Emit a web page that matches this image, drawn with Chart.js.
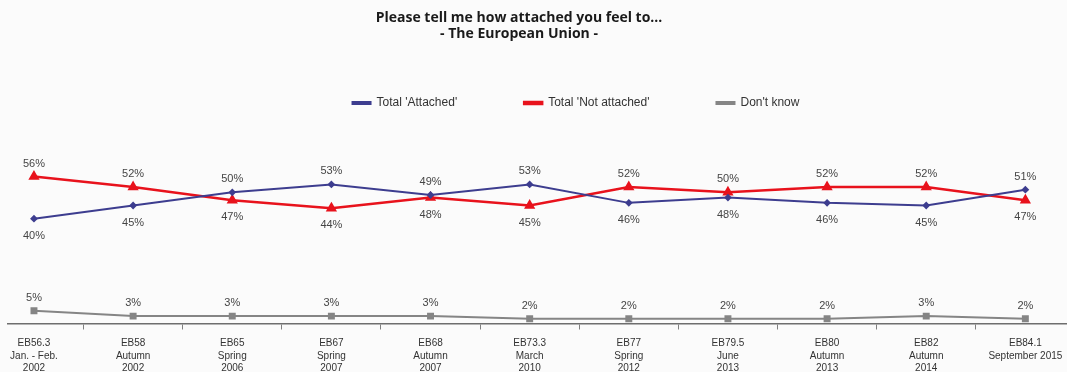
<!DOCTYPE html>
<html>
<head>
<meta charset="utf-8">
<script src="https://cdn.jsdelivr.net/npm/chart.js@4.4.1/dist/chart.umd.min.js"></script>
<style>
  html, body { margin: 0; padding: 0; background: #fbfbfb; overflow: hidden; }
  #wrap { width: 1067px; height: 372px; }
</style>
</head>
<body>
<div id="wrap"><canvas id="eu" width="1067" height="372"></canvas></div>
<script>
/* ---------- Veri ---------- */
const waves = [
  ['EB56.3', 'Jan. - Feb.', '2002'],
  ['EB58', 'Autumn', '2002'],
  ['EB65', 'Spring', '2006'],
  ['EB67', 'Spring', '2007'],
  ['EB68', 'Autumn', '2007'],
  ['EB73.3', 'March', '2010'],
  ['EB77', 'Spring', '2012'],
  ['EB79.5', 'June', '2013'],
  ['EB80', 'Autumn', '2013'],
  ['EB82', 'Autumn', '2014'],
  ['EB84.1', 'September 2015']
];
const attached    = [40, 45, 50, 53, 49, 53, 46, 48, 46, 45, 51];
const notAttached = [56, 52, 47, 44, 48, 45, 52, 50, 52, 52, 47];
const dontKnow    = [5, 3, 3, 3, 3, 2, 2, 2, 2, 3, 2];

const toPoints = arr => arr.map((v, i) => ({ x: i, y: v }));

/* ---------- Başlık / lejant konumu ---------- */
const TITLE_CENTER_X = 519, TITLE_TOP = 10;
const LEGEND_CENTER_X = 576, LEGEND_TEXT_Y = 103;
const LEGEND_BAND = 134;   // başlık altından çizim alanına kadar

function moveBox(box, dx, dy) {
    box.left += dx; box.right += dx;
    box.top += dy; box.bottom += dy;
}

const nudge = {
    id: 'nudge',
    beforeLayout(chart) {
        const lg = chart.legend;
        if (lg && !lg._fixedFit) {
            const fit = lg.fit;
            lg.fit = function () { fit.call(this); this.height = LEGEND_BAND; };
            lg._fixedFit = true;
        }
    },
    afterLayout(chart) {
        const t = chart.titleBlock;
        moveBox(t, TITLE_CENTER_X - (t.left + t.right) / 2, TITLE_TOP - t.top);
        const l = chart.legend;
        const pad = l.options.labels.padding;
        moveBox(l, LEGEND_CENTER_X - (l.left + l.right) / 2, LEGEND_TEXT_Y - pad - 6 - l.top);
    }
};

/* ---------- Nokta etiketleri ---------- */
const valueLabels = {
    id: 'valueLabels',
    afterDatasetsDraw(chart) {
        const ctx = chart.ctx;
        const sets = chart.data.datasets;
        ctx.save();
        ctx.font = '11px "Liberation Sans", Arial, sans-serif';
        ctx.fillStyle = '#454545';
        ctx.textAlign = 'center';
        ctx.textBaseline = 'middle';
        sets.forEach((ds, d) => {
            chart.getDatasetMeta(d).data.forEach((pt, i) => {
                const v = ds.data[i].y;
                let above = true;
                if (d < 2) above = v >= sets[1 - d].data[i].y; // büyük olan üstte
                ctx.fillText(v + '%', pt.x, pt.y + (above ? -13 : 17));
            });
        });
        ctx.restore();
    }
};

/* ---------- Grafik ---------- */
new Chart(document.getElementById('eu'), {
    type: 'line',
    data: {
        datasets: [
            {
                label: "Total 'Attached'",
                data: toPoints(attached),
                borderColor: '#3d3d8f', backgroundColor: '#3d3d8f',
                borderWidth: 2, pointStyle: 'rectRot', pointRadius: 2.5
            },
            {
                label: "Total 'Not attached'",
                data: toPoints(notAttached),
                borderColor: '#e8121c', backgroundColor: '#e8121c',
                borderWidth: 2.5, pointStyle: 'triangle', pointRadius: 4
            },
            {
                label: "Don't know",
                data: toPoints(dontKnow),
                borderColor: '#858585', backgroundColor: '#858585',
                borderWidth: 2, pointStyle: 'rect', pointRadius: 3.5
            }
        ]
    },
    options: {
        responsive: false,
        animation: false,
        layout: { autoPadding: false, padding: { left: 8, right: 0, top: 0, bottom: -6.5 } },
        plugins: {
            title: {
                display: true,
                text: ['Please tell me how attached you feel to...', '- The European Union -'],
                color: '#1a1a1a',
                font: { family: '"Open Sans", sans-serif', size: 14, weight: 'bold', lineHeight: 16 / 14 },
                padding: { top: 0, bottom: 0 }
            },
            legend: {
                display: true,
                labels: {
                    boxWidth: 18, boxHeight: 2, padding: 67,
                    color: '#333',
                    font: { family: '"Liberation Sans", Arial, sans-serif', size: 12 }
                }
            },
            tooltip: { enabled: false }
        },
        scales: {
            x: {
                type: 'linear',
                min: -0.262, max: 10.42,
                afterBuildTicks: scale => { scale.ticks = waves.map((_, i) => ({ value: i })); },
                // etiket taşması için alanı daraltma
                afterFit: scale => { scale.paddingLeft = 0; scale.paddingRight = 0; },
                ticks: {
                    autoSkip: false, maxRotation: 0, padding: 4,
                    color: '#333',
                    font: { family: '"Liberation Sans", Arial, sans-serif', size: 10, lineHeight: 1.25 },
                    callback: v => waves[v]
                },
                grid: {
                    drawOnChartArea: false, offset: true, tickLength: 9,
                    tickBorderDash: [5, 20], color: '#808080'
                },
                border: { color: '#6e6e6e', width: 1.5 }
            },
            y: { display: false, min: 0, max: 60 }
        }
    },
    plugins: [nudge, valueLabels]
});
</script>
</body>
</html>
